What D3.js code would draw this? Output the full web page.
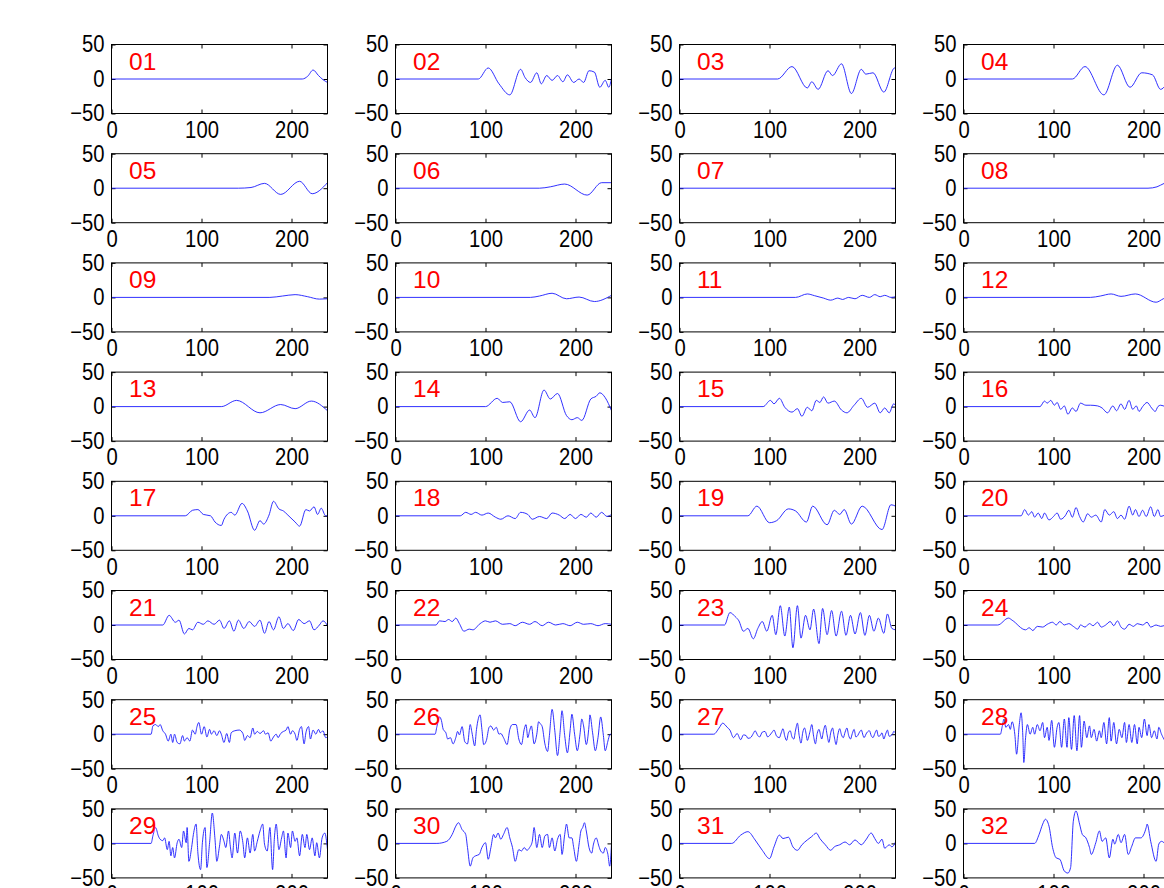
<!DOCTYPE html>
<html><head><meta charset="utf-8">
<script src="https://cdn.jsdelivr.net/npm/d3@7"></script>
<style>
body{margin:0;background:#fff;}
svg{display:block;}
text{font-family:"Liberation Sans",Arial,Helvetica,sans-serif;}
</style>
</head><body>
<svg id="chart" width="1164" height="888"></svg>
<script>
// ---------- data ----------
const xTicks = [0, 100, 200];
const yTicks = [-50, 0, 50];
const xDomain = [0, 240];
const yDomain = [-50, 50];
const panelLabels = ["01","02","03","04","05","06","07","08","09","10","11","12","13","14","15","16",
                     "17","18","19","20","21","22","23","24","25","26","27","28","29","30","31","32"];

const w01 = [[0,0],[212,0],[218,4],[224,13],[230,5],[235,-1],[240,-5]];
const w02 = [[0,0],[92,0],[103,16],[115,-7],[127,-23],[139,14],[144,2],[150,-5],[157,9],[162,-7],[168,5],[174,-2],[180,5],[186,-4],[191,6],[198,-5],[204,0],[209,-5],[215,12],[221,10],[227,-12],[233,-2],[237,-12],[240,1]];
const w03 = [[0,0],[109,0],[125,18],[142,-13],[147,-4],[154,-15],[165,12],[170,5],[180,22],[191,-21],[202,14],[207,7],[215,9],[227,-19],[239,16],[240,16]];
const w04 = [[0,0],[121,0],[135,18],[156,-23],[171,20],[185,-12],[198,9],[210,6],[219,-15],[230,0],[240,10]];
const w05 = [[0,0],[141,0],[155,1],[170,7],[188,-9],[209,10],[223,-8],[240,8]];
const w06 = [[0,0],[160,0],[172,2],[188,6],[213,-10],[229,8],[240,8]];
const w07 = [[0,0],[240,0]];
const w08 = [[0,0],[205,0],[215,2],[223,7],[232,10],[240,5]];
const w09 = [[0,0],[176,0],[190,2],[204,4],[218,1],[231,-2.5],[240,-2]];
const w10 = [[0,0],[150,0],[160,2],[174,6],[190,-2],[204,0.5],[221,-6],[240,3]];
const w11 = [[0,0],[129,0],[142,5],[150,2.5],[160,-1],[168,-4],[176,-1],[181,-3],[188,0],[195,-2],[203,3],[211,0],[217,4],[223,1],[228,3],[235,0],[240,1]];
const w12 = [[0,0],[141,0],[152,2],[164,5],[175,1.5],[191,5],[214,-7],[222,-2],[230,2],[240,0]];
const w13 = [[0,0],[122,0],[139,9],[165,-9],[188,3],[204,-3],[222,8],[240,-6]];
const w14 = [[0,0],[100,0],[113,12],[119,6],[127,7],[139,-22],[149,-5],[155,-16],[165,24],[172,11],[180,19],[190,-13],[196,-19],[202,-16],[207,-20],[217,11],[223,15],[227,20],[233,13],[240,-6]];
const w15 = [[0,0],[93,0],[101,9],[105,4],[111,12],[117,-1],[125,-8],[131,-3],[136,-14],[142,-1],[147,-6],[152,9],[156,6],[160,14],[165,5],[172,8],[180,-5],[186,-9],[194,2],[202,12],[209,-1],[217,5],[223,-9],[228,-2],[233,-9],[238,4],[240,2]];
const w16 = [[0,0],[85,0],[90,8],[93,5],[97,9],[101,2],[104,6],[108,-4],[112,1],[116,-11],[121,-2],[125,-7],[130,5],[136,2],[141,2],[149,1],[154,-2],[160,-9],[166,1],[170,-6],[175,4],[179,-4],[184,9],[188,-4],[192,1],[195,-7],[199,0],[204,6],[209,-2],[213,-7],[216,0],[219,2],[230,-3],[240,2]];
const w17 = [[0,0],[82,0],[90,8],[96,9],[102,2],[110,0],[115,-9],[122,-14],[125,-5],[133,5],[137,1],[145,18],[151,7],[159,-21],[165,-7],[169,-12],[175,1],[180,21],[186,10],[191,7],[196,1],[204,-9],[209,-15],[216,9],[220,7],[225,13],[229,2],[233,11],[238,0],[240,0]];
const w18 = [[0,0],[72,0],[78,5],[84,2],[89,5],[96,1],[103,4],[111,-2],[117,-5],[125,0],[133,-4],[139,5],[147,2],[152,-5],[160,-1],[168,-4],[174,4],[182,1],[188,-4],[194,2],[200,-4],[206,2],[212,-2],[217,4],[223,-2],[229,5],[235,-1],[240,2]];
const w19 = [[0,0],[76,0],[86,14],[100,-10],[108,-7],[121,10],[129,7],[141,-9],[148,14],[164,-13],[172,8],[178,2],[183,9],[191,-12],[203,14],[225,-20],[235,16],[240,14]];
const w20 = [[0,0],[64,0],[68,9],[72,1],[76,6],[79,-2],[83,4],[87,-4],[90,4],[95,-6],[100,-1],[104,4],[108,-5],[113,0],[117,8],[121,-2],[125,12],[129,-1],[133,-9],[138,3],[142,-2],[147,1],[153,-9],[157,9],[162,1],[167,6],[171,-4],[175,1],[179,-5],[184,14],[188,1],[191,9],[195,-1],[199,8],[203,-1],[208,13],[212,-1],[216,9],[219,-1],[230,5],[240,-2]];
const w21 = [[0,0],[57,0],[64,14],[71,4],[75,7],[81,-13],[86,-5],[90,-7],[96,4],[102,1],[107,6],[114,1],[120,7],[125,-5],[131,6],[136,-9],[141,7],[147,-5],[153,5],[159,-2],[165,7],[170,-12],[175,5],[180,-7],[186,12],[191,-5],[196,2],[202,-8],[208,8],[214,2],[220,6],[225,-7],[231,0],[235,6],[240,-1]];
const w22 = [[0,0],[45,0],[49,6],[55,5],[59,8],[63,5],[67,10],[71,2],[76,-9],[82,-6],[86,-7],[94,2],[100,6],[105,4],[111,6],[119,1],[127,2],[133,-1],[141,4],[149,1],[155,5],[163,-1],[170,4],[178,0],[186,2],[194,-1],[202,4],[209,1],[217,2],[225,-1],[233,2],[240,1]];
const w23 = [[0,0],[50,0],[56,18],[62,12],[66,6],[71,-9],[76,-5],[82,-20],[87,-5],[92,5],[97,-9],[103,14],[107,-14],[112,28],[117,-16],[122,26],[126,-33],[131,28],[135,-19],[140,14],[145,-7],[149,23],[155,-27],[159,24],[164,-14],[169,21],[174,-16],[180,20],[185,-15],[190,14],[195,-13],[201,18],[206,-15],[211,14],[216,-9],[221,10],[227,-12],[231,16],[236,-5],[240,-7]];
const w24 = [[0,0],[38,0],[50,10],[54,7],[69,-7],[73,-4],[77,-8],[82,-2],[88,-3],[93,1],[99,4],[103,0],[107,5],[112,0],[117,2],[122,-2],[127,-6],[130,0],[135,-3],[140,2],[144,-1],[149,4],[153,-3],[158,0],[163,5],[167,-1],[171,6],[175,-3],[179,-6],[184,1],[189,-2],[193,2],[199,0],[204,4],[208,-3],[214,0],[219,-2],[230,2],[240,0]];
const w25 = [[0,0],[44,0],[46,12],[49,14],[52,11],[54,14],[57,5],[60,0],[63,-10],[66,0],[68,-12],[70,0],[73,-12],[76,-14],[79,-2],[81,-10],[84,-5],[87,-10],[90,6],[93,0],[95,11],[97,17],[100,0],[103,11],[106,-4],[109,7],[111,0],[114,5],[117,-2],[120,5],[122,0],[125,-12],[128,1],[131,-12],[133,2],[137,5],[142,6],[146,1],[148,-9],[151,-2],[154,-5],[157,9],[159,0],[162,4],[165,1],[169,5],[171,0],[174,2],[177,-10],[180,-4],[183,0],[185,-5],[188,1],[191,4],[194,6],[196,11],[199,0],[201,5],[204,0],[206,-9],[209,7],[211,11],[214,-14],[216,2],[219,11],[221,-7],[224,6],[227,0],[230,7],[232,2],[235,5],[238,-5],[240,-4]];
const w26 = [[0,0],[44,0],[46,11],[49,25],[51,20],[53,7],[56,2],[58,-7],[61,-5],[64,-14],[67,-5],[69,4],[71,-1],[74,11],[77,-11],[80,-14],[83,14],[85,2],[88,-17],[90,7],[94,28],[96,7],[98,-15],[101,-9],[104,10],[106,12],[109,6],[112,10],[115,0],[117,1],[120,-5],[124,-15],[127,7],[130,14],[134,14],[137,-7],[140,-15],[143,7],[145,14],[147,-5],[149,5],[151,12],[154,-14],[157,0],[159,18],[161,15],[163,11],[166,-14],[169,-25],[171,-2],[174,36],[177,5],[180,-31],[183,5],[185,34],[188,-2],[191,-27],[194,5],[196,29],[199,0],[202,-24],[205,0],[207,22],[209,12],[212,-15],[215,12],[216,28],[219,2],[222,-24],[225,-5],[228,25],[231,-2],[233,-24],[236,-10],[238,-1],[240,1]];
const w27 = [[0,0],[38,0],[44,9],[48,16],[53,10],[56,6],[60,-5],[64,1],[68,-8],[71,-1],[74,-2],[76,-6],[79,-5],[82,1],[84,5],[87,-2],[89,-4],[92,3],[95,4],[98,-4],[100,-2],[103,3],[105,6],[108,-3],[111,-5],[113,2],[115,8],[117,-3],[119,-9],[121,2],[123,5],[125,-4],[127,-7],[129,6],[131,16],[133,-2],[135,-13],[137,3],[139,9],[141,-2],[142,-9],[145,4],[147,14],[149,-3],[151,-14],[153,1],[155,7],[157,-3],[158,-7],[160,5],[162,13],[164,-1],[166,-12],[168,2],[170,9],[172,-4],[174,-15],[176,0],[178,8],[180,-1],[182,-5],[184,3],[186,9],[188,-2],[190,-7],[192,1],[194,7],[196,-4],[198,-2],[200,3],[202,6],[204,-2],[205,-5],[208,2],[211,5],[213,-2],[215,-5],[217,1],[219,6],[221,-3],[223,-2],[225,2],[227,-7],[229,0],[231,6],[233,-3],[235,-2],[237,1],[238,4],[240,2]];
const w28 = [[0,0],[41,0],[43,11],[45,22],[47,10],[50,14],[52,7],[54,18],[57,0],[59,-29],[62,14],[64,31],[66,-5],[67,-41],[69,-5],[71,14],[74,0],[77,10],[79,0],[82,14],[85,5],[88,17],[90,-5],[93,10],[95,-9],[98,20],[101,-19],[104,10],[106,17],[109,-19],[112,22],[115,-19],[117,24],[120,-22],[123,27],[126,-24],[129,27],[131,-19],[134,19],[137,-5],[140,12],[142,-5],[145,7],[148,-10],[151,5],[153,-5],[156,17],[159,-14],[162,24],[164,-10],[167,17],[170,-14],[173,7],[176,-5],[179,17],[181,-12],[184,14],[187,-12],[190,14],[193,-14],[195,10],[198,-5],[201,22],[204,-2],[206,14],[209,-5],[212,5],[215,-7],[217,10],[220,0],[225,-10],[230,15],[235,-8],[240,5]];
const w29 = [[0,0],[44,0],[46,11],[49,23],[52,11],[54,6],[57,4],[59,8],[62,-9],[64,3],[66,-18],[68,-6],[70,-21],[73,1],[75,6],[78,-6],[80,18],[83,1],[84,23],[86,-26],[89,-6],[91,13],[94,28],[96,-14],[99,-38],[101,1],[104,23],[106,-35],[109,1],[112,44],[115,6],[117,-26],[120,-4],[122,13],[125,3],[127,-6],[130,18],[132,-4],[134,-21],[137,15],[140,-14],[143,18],[146,1],[148,-21],[151,8],[154,-14],[157,13],[159,-11],[162,3],[165,18],[168,28],[170,-1],[173,-11],[176,23],[179,-38],[181,8],[183,28],[186,-9],[189,8],[191,18],[194,-21],[196,15],[199,-6],[201,18],[204,3],[206,8],[209,-18],[212,13],[215,-6],[217,13],[220,-9],[223,8],[226,-18],[228,1],[231,-21],[234,8],[237,15],[240,-9]];
const w30 = [[0,0],[46,0],[57,3],[63,13],[67,25],[70,30],[74,20],[78,13],[80,-6],[83,-33],[86,-21],[89,-18],[93,-16],[96,-6],[100,1],[103,-23],[106,-6],[109,13],[111,8],[114,15],[117,6],[120,13],[124,23],[127,8],[130,-6],[133,-26],[137,-9],[140,-11],[143,-6],[146,-10],[149,-6],[152,3],[154,23],[157,-6],[160,13],[163,-6],[166,11],[169,13],[171,-6],[174,8],[177,-11],[180,6],[183,13],[185,-16],[188,13],[190,28],[193,8],[196,8],[198,-6],[201,-26],[204,-1],[206,18],[208,23],[210,30],[212,18],[215,-6],[218,-14],[220,-1],[223,8],[226,-4],[228,-11],[231,-14],[233,-6],[236,-16],[238,-33],[240,-1]];
const w31 = [[0,0],[58,0],[68,12],[76,17],[84,5],[92,-10],[100,-22],[105,-5],[111,12],[115,7],[121,9],[126,-5],[131,-10],[136,-2],[142,5],[147,10],[152,15],[156,7],[162,-2],[168,-10],[172,-5],[178,-2],[184,2],[189,-2],[195,5],[202,-2],[207,5],[213,15],[217,7],[221,0],[225,6],[228,-7],[233,-2],[236,-5],[240,2]];
const w32 = [[0,0],[79,0],[84,13],[88,28],[91,35],[95,25],[99,-6],[103,-21],[107,-23],[112,-40],[116,-43],[119,-35],[122,32],[125,47],[129,28],[132,13],[136,8],[140,-6],[142,-16],[147,1],[151,18],[154,3],[158,8],[162,-21],[166,6],[168,-1],[172,13],[175,1],[179,13],[183,-16],[187,-4],[191,8],[197,8],[203,23],[204,28],[208,3],[214,-26],[217,-1],[220,3],[230,-8],[240,5]];

const waves = [w01,w02,w03,w04,w05,w06,w07,w08,w09,w10,w11,w12,w13,w14,w15,w16,
               w17,w18,w19,w20,w21,w22,w23,w24,w25,w26,w27,w28,w29,w30,w31,w32];

// ---------- layout ----------
const left0 = 111.5, colStep = 284, top0 = 44.5, rowStep = 109.2;
const W = 216, H = 69;

const svg = d3.select("#chart");
svg.append("rect").attr("width",1164).attr("height",888).attr("fill","#fff");

const x = d3.scaleLinear().domain(xDomain).range([0, W]);
const y = d3.scaleLinear().domain(yDomain).range([H, 0]);
const line = d3.line().x(d => x(d[0])).y(d => y(d[1])).curve(d3.curveMonotoneX);

const defs = svg.append("defs");
defs.append("clipPath").attr("id","box").append("rect").attr("width",W).attr("height",H);

waves.forEach((data, i) => {
  const col = i % 4, row = Math.floor(i / 4);
  const g = svg.append("g").attr("transform", `translate(${left0 + col*colStep},${top0 + row*rowStep})`);

  const bottom = g.append("g").attr("transform", `translate(0,${H})`)
    .call(d3.axisBottom(x).tickValues(xTicks).tickSizeInner(-4).tickSizeOuter(0).tickPadding(8));
  const top = g.append("g")
    .call(d3.axisTop(x).tickValues(xTicks).tickSizeInner(-4).tickSizeOuter(0).tickFormat(""));
  const leftAx = g.append("g")
    .call(d3.axisLeft(y).tickValues(yTicks).tickSizeInner(-4).tickSizeOuter(0).tickPadding(8));
  const rightAx = g.append("g").attr("transform", `translate(${W},0)`)
    .call(d3.axisRight(y).tickValues(yTicks).tickSizeInner(-4).tickSizeOuter(0).tickFormat(""));

  [bottom, top, leftAx, rightAx].forEach(a => {
    a.select(".domain").remove();
    a.selectAll("line").attr("stroke","#000").attr("stroke-width",1);
  });
  bottom.selectAll("text").attr("font-size",23).attr("fill","#000")
    .attr("transform","scale(0.88,1)");
  leftAx.selectAll("text").attr("font-size",23).attr("fill","#000")
    .attr("transform","scale(0.88,1)");

  g.append("path").datum(data)
    .attr("clip-path","url(#box)")
    .attr("fill","none").attr("stroke","#1a1aff").attr("stroke-width",0.9)
    .attr("d", line);

  g.append("rect").attr("width",W).attr("height",H)
    .attr("fill","none").attr("stroke","#000").attr("stroke-width",1);

  g.append("text").attr("x",17.5).attr("y",25)
    .attr("font-size",24.5).attr("fill","#ff0000")
    .text(panelLabels[i]);
});
</script>
</body></html>
